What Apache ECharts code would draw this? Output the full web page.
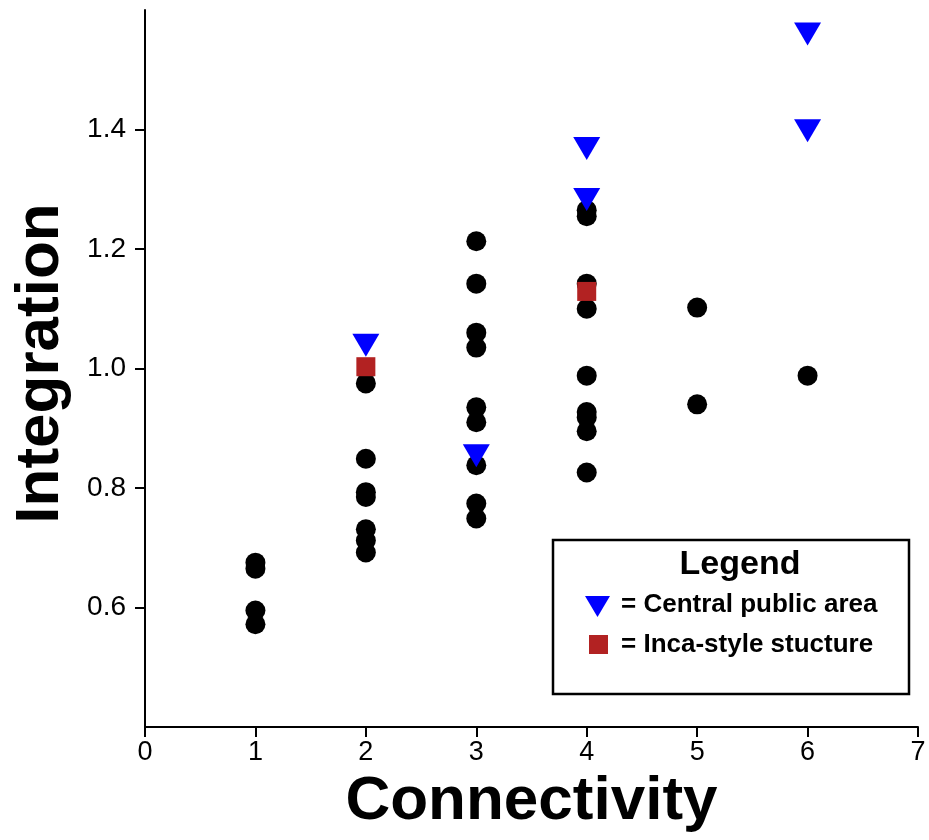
<!DOCTYPE html>
<html>
<head>
<meta charset="utf-8">
<script src="https://cdn.jsdelivr.net/npm/echarts@6/dist/echarts.min.js"></script>
<style>html,body{margin:0;padding:0;background:#fff}#c{width:929px;height:840px}</style>
</head>
<body>
<div id="c"></div>
<script>
// Data: [connectivity, integration]
const otherSpaces = [
  [1, 0.675], [1, 0.665], [1, 0.595], [1, 0.572],
  [2, 0.975], [2, 0.849], [2, 0.793], [2, 0.785], [2, 0.731], [2, 0.712], [2, 0.692],
  [3, 1.213], [3, 1.142], [3, 1.060], [3, 1.035], [3, 0.935], [3, 0.910], [3, 0.838], [3, 0.774], [3, 0.749],
  [4, 1.265], [4, 1.255], [4, 1.142], [4, 1.100], [4, 0.988], [4, 0.927], [4, 0.918], [4, 0.895], [4, 0.826],
  [5, 1.102], [5, 0.940],
  [6, 0.988]
];
const centralPublic = [[2, 1.039], [3, 0.854], [4, 1.368], [4, 1.283], [6, 1.560], [6, 1.398]];
const incaStyle = [[2, 1.003], [4, 1.129]];
const yTickValues = [0.6, 0.8, 1.0, 1.2, 1.4];
const xTickValues = [0, 1, 2, 3, 4, 5, 6, 7];
const legendTitle = 'Legend';
const legendLabels = ['= Central public area', '= Inca-style stucture'];

const chart = echarts.init(document.getElementById('c'), null, {renderer: 'canvas'});
const FONT = '"Liberation Sans", Arial, sans-serif';
const axisLineStyle = {color: '#000', width: 2};

chart.setOption({
  animation: false,
  backgroundColor: '#fff',
  grid: {left: 145, right: 11, top: 10, bottom: 113, containLabel: false, outerBoundsMode: 'none'},
  xAxis: {
    type: 'value', min: 0, max: 7, interval: 1,
    name: 'Connectivity', nameLocation: 'middle', nameGap: 36,
    nameTextStyle: {fontFamily: FONT, fontWeight: 'bold', fontSize: 62, color: '#000'},
    axisLine: {show: true, lineStyle: axisLineStyle},
    axisTick: {show: true, length: 10, lineStyle: axisLineStyle, customValues: xTickValues},
    axisLabel: {fontFamily: FONT, fontSize: 27, color: '#000', margin: 12, customValues: xTickValues,
      formatter: v => String(v)},
    splitLine: {show: false}
  },
  yAxis: {
    type: 'value', min: 0.4, max: 1.6, interval: 0.2,
    name: 'Integration', nameLocation: 'middle', nameGap: 73, nameRotate: 90,
    nameTextStyle: {fontFamily: FONT, fontWeight: 'bold', fontSize: 62, color: '#000', padding: [0, 0, 0, 10]},
    axisLine: {show: true, lineStyle: axisLineStyle},
    axisTick: {show: true, length: 10, lineStyle: axisLineStyle, customValues: yTickValues},
    axisLabel: {fontFamily: FONT, fontSize: 28, color: '#000', margin: 19, customValues: yTickValues,
      formatter: v => (Math.abs(v - 0.4) < 1e-6 || Math.abs(v - 1.6) < 1e-6) ? '' : v.toFixed(1)},
    splitLine: {show: false}
  },
  series: [
    {name: 'Other spaces', type: 'scatter', data: otherSpaces, symbol: 'circle', symbolSize: 20,
      itemStyle: {color: '#000', opacity: 1}, z: 2},
    {name: 'Inca-style stucture', type: 'scatter', data: incaStyle, symbol: 'rect', symbolSize: 19,
      itemStyle: {color: '#b22222', opacity: 1}, z: 3},
    {name: 'Central public area', type: 'scatter', data: centralPublic, symbol: 'triangle', symbolRotate: 180,
      symbolSize: [27, 23], itemStyle: {color: '#0000ff', opacity: 1}, z: 4}
  ],
  graphic: [
    {type: 'rect', shape: {x: 553, y: 540, width: 356, height: 154},
      style: {fill: '#fff', stroke: '#000', lineWidth: 2.5}, z: 10},
    {type: 'text', x: 740, y: 565, z: 11,
      style: {text: legendTitle, font: 'bold 34px ' + FONT, fill: '#000', align: 'center', verticalAlign: 'middle'}},
    {type: 'polygon', z: 11, shape: {points: [[585, 596], [610, 596], [597.5, 617]]}, style: {fill: '#0000ff'}},
    {type: 'text', x: 621, y: 605, z: 11,
      style: {text: legendLabels[0], font: 'bold 26px ' + FONT, fill: '#000', align: 'left', verticalAlign: 'middle'}},
    {type: 'rect', z: 11, shape: {x: 589, y: 635, width: 19, height: 19}, style: {fill: '#b22222'}},
    {type: 'text', x: 621, y: 645, z: 11,
      style: {text: legendLabels[1], font: 'bold 26px ' + FONT, fill: '#000', align: 'left', verticalAlign: 'middle'}}
  ]
});
</script>
</body>
</html>
